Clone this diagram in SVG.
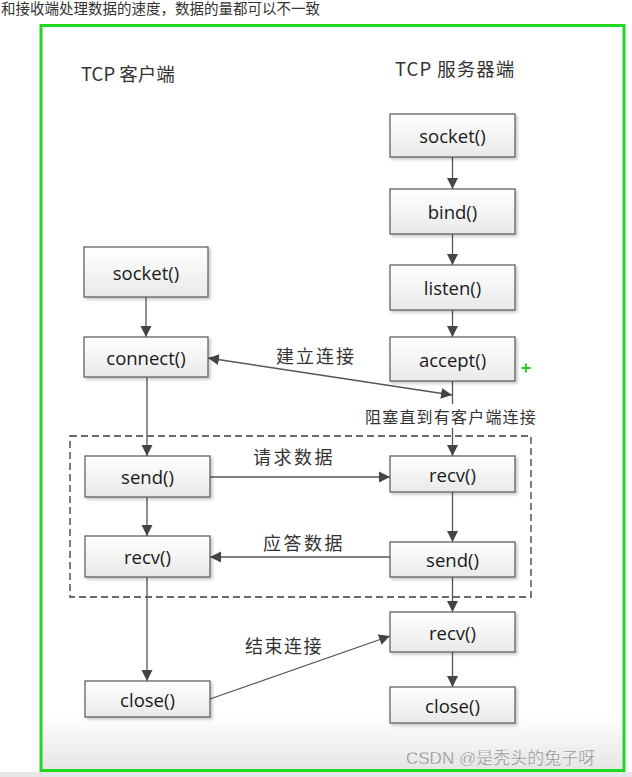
<svg xmlns="http://www.w3.org/2000/svg" width="632" height="777" viewBox="0 0 632 777">
<defs>
<linearGradient id="bg" x1="0" y1="0" x2="0" y2="1"><stop offset="0" stop-color="#ffffff"/><stop offset="1" stop-color="#e9e9e9"/></linearGradient>
<linearGradient id="bot" x1="0" y1="0" x2="0" y2="1"><stop offset="0" stop-color="#ffffff"/><stop offset="1" stop-color="#e4e4e4"/></linearGradient>
<filter id="sh" x="-10%" y="-10%" width="130%" height="140%"><feDropShadow dx="2" dy="2" stdDeviation="1.5" flood-color="#000" flood-opacity="0.22"/></filter>
<marker id="ah" markerUnits="userSpaceOnUse" markerWidth="12" markerHeight="12" refX="11" refY="6" orient="auto-start-reverse"><path d="M0,0.5 L11,6 L0,11.5 z" fill="#444"/></marker>
<style>
.box{fill:url(#bg);stroke:#555;stroke-width:1.2;filter:url(#sh)}
.lbl{font-family:"Open Sans","Liberation Sans",sans-serif;font-size:18.5px;fill:#1a1a1a;text-anchor:middle;dominant-baseline:central}
.cn{font-family:"Noto Sans CJK SC","Noto Sans",sans-serif;fill:#333}
.ln{stroke:#555;stroke-width:1.3;fill:none}
.ar{stroke:#555;stroke-width:1.3;fill:none;marker-end:url(#ah)}
</style>
</defs>
<rect x="0" y="0" width="632" height="777" fill="#ffffff"/>
<rect x="41" y="715" width="583" height="57" fill="url(#bot)"/>
<rect x="0" y="772" width="632" height="5" fill="#e6e6e6"/>
<text x="1" y="14" class="cn" font-size="14.5">和接收端处理数据的速度，数据的量都可以不一致</text>
<rect x="41" y="25.5" width="583" height="745" fill="none" stroke="#1fd81f" stroke-width="3"/>

<text x="81" y="81" class="cn" font-size="18.5" fill="#222">TCP 客户端</text>
<text x="395" y="76" class="cn" font-size="18.5" fill="#222" letter-spacing="1">TCP 服务器端</text>

<rect x="70" y="436" width="461" height="161" fill="none" stroke="#3a3a3a" stroke-width="1.3" stroke-dasharray="7 4"/>

<g id="connectors">
<line class="ar" x1="146" y1="297" x2="146" y2="337"/>
<line class="ar" x1="147" y1="377" x2="147" y2="456"/>
<line class="ar" x1="147" y1="497" x2="147" y2="536"/>
<line class="ar" x1="147" y1="577" x2="147" y2="681"/>
<line class="ar" x1="452.5" y1="157" x2="452.5" y2="189"/>
<line class="ar" x1="452.5" y1="234" x2="452.5" y2="265"/>
<line class="ar" x1="452.5" y1="310" x2="452.5" y2="337"/>
<line class="ln" x1="452.5" y1="381" x2="452.5" y2="404"/>
<line class="ar" x1="452.5" y1="428" x2="452.5" y2="456"/>
<line class="ar" x1="452.5" y1="492" x2="452.5" y2="542"/>
<line class="ar" x1="452.5" y1="577" x2="452.5" y2="612"/>
<line class="ar" x1="452.5" y1="652" x2="452.5" y2="687"/>
<line class="ar" x1="208" y1="358" x2="452" y2="395" marker-start="url(#ah)"/>
<line class="ar" x1="210" y1="477" x2="390" y2="477"/>
<line class="ar" x1="390" y1="557" x2="210" y2="557"/>
<line class="ar" x1="210" y1="699" x2="390" y2="636"/>
<text x="276" y="363" class="cn" font-size="18" letter-spacing="2">建立连接</text>
<text x="365" y="423" class="cn" font-size="16" letter-spacing="1.2">阻塞直到有客户端连接</text>
<text x="253" y="464" class="cn" font-size="18" letter-spacing="2.5">请求数据</text>
<text x="263" y="550" class="cn" font-size="18" letter-spacing="2.5">应答数据</text>
<text x="245" y="653" class="cn" font-size="18" letter-spacing="1.5">结束连接</text>
</g>

<g id="c_socket"><rect class="box" x="84" y="247" width="124" height="50"/><text class="lbl" x="146" y="272">socket()</text></g>
<g id="c_connect"><rect class="box" x="84" y="337" width="124" height="40"/><text class="lbl" x="146" y="357">connect()</text></g>
<g id="c_send"><rect class="box" x="85" y="456" width="125" height="41"/><text class="lbl" x="147.5" y="476.5">send()</text></g>
<g id="c_recv"><rect class="box" x="85" y="536" width="125" height="41"/><text class="lbl" x="147.5" y="556.5">recv()</text></g>
<g id="c_close"><rect class="box" x="85" y="681" width="125" height="36"/><text class="lbl" x="147.5" y="699">close()</text></g>

<g id="s_socket"><rect class="box" x="390" y="114" width="125" height="43"/><text class="lbl" x="452.5" y="135.5">socket()</text></g>
<g id="s_bind"><rect class="box" x="390" y="189" width="125" height="45"/><text class="lbl" x="452.5" y="211.5">bind()</text></g>
<g id="s_listen"><rect class="box" x="390" y="265" width="125" height="45"/><text class="lbl" x="452.5" y="287.5">listen()</text></g>
<g id="s_accept"><rect class="box" x="390" y="337" width="125" height="44"/><text class="lbl" x="452.5" y="359">accept()</text></g>
<g id="s_recv1"><rect class="box" x="390" y="456" width="125" height="36"/><text class="lbl" x="452.5" y="474">recv()</text></g>
<g id="s_send"><rect class="box" x="390" y="542" width="125" height="35"/><text class="lbl" x="452.5" y="559.5">send()</text></g>
<g id="s_recv2"><rect class="box" x="390" y="612" width="125" height="40"/><text class="lbl" x="452.5" y="632">recv()</text></g>
<g id="s_close"><rect class="box" x="390" y="687" width="125" height="36"/><text class="lbl" x="452.5" y="705">close()</text></g>

<path d="M521.5,368 H530.5 M526,363.5 V372.5" stroke="#22cc22" stroke-width="2"/>
<text x="406" y="764" font-family="'Liberation Sans','Noto Sans CJK SC',sans-serif" font-size="17" fill="#888" stroke="#fff" stroke-width="0.3">CSDN @<tspan font-family="'Noto Sans CJK SC',sans-serif">是秃头的兔子呀</tspan></text>
</svg>
